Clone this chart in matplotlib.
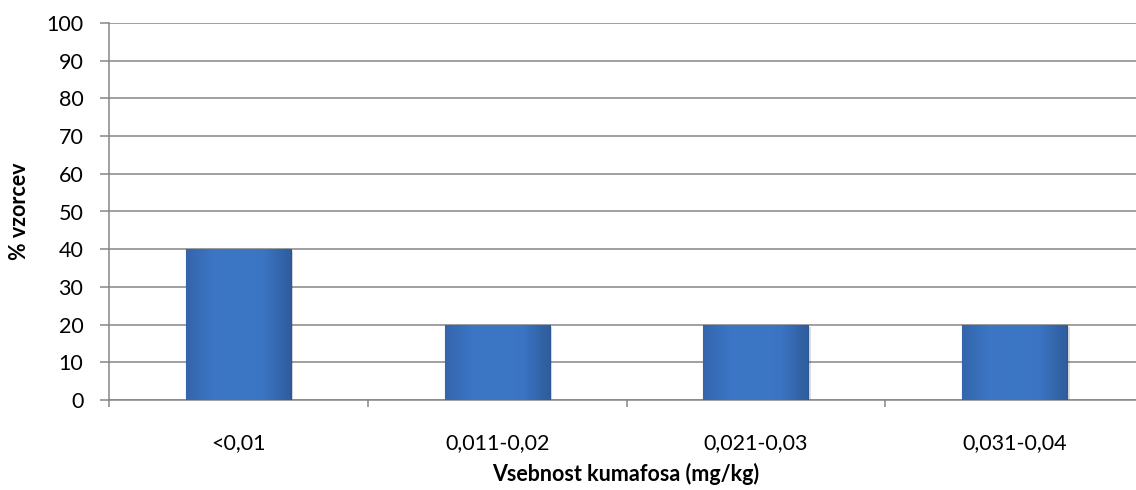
import numpy as np
import matplotlib
matplotlib.use("Agg")
import matplotlib.pyplot as plt
from matplotlib.colors import LinearSegmentedColormap

# data
categories = ["<0,01", "0,011-0,02", "0,021-0,03", "0,031-0,04"]
values = [40, 20, 20, 20]
yticks = list(range(0, 101, 10))

plt.rcParams['font.family'] = ['Lato', 'DejaVu Sans']

fig = plt.figure(figsize=(11.36, 4.9), dpi=100)
# plot area runs past the right edge (the original is cropped there)
ax = fig.add_axes([109/1136, 90/490, 1035/1136, 377/490])

x = np.arange(len(categories))
bars = ax.bar(x, values, width=0.405, color="#3b73c0", edgecolor="#2b5894",
              linewidth=0.8, zorder=3)

# bevel-ish shading: a bit darker at the sides
cmap = LinearSegmentedColormap.from_list(
    "bev", ["#3465ac", "#3b75c4", "#3c77c6", "#3b74c2", "#2f5c9c"])
grad = np.linspace(0, 1, 256).reshape(1, -1)
for b in bars:
    x0, y0 = b.get_x(), b.get_y()
    w, h = b.get_width(), b.get_height()
    im = ax.imshow(grad, cmap=cmap, aspect="auto", zorder=3.5,
                   extent=[x0, x0 + w, y0, y0 + h], interpolation="bicubic")
    im.set_clip_path(b)
    # faint shadow below
    ax.bar(x0 + w/2 + 0.01, h, width=w, bottom=-0.6, color="#00000022",
           zorder=2.5, linewidth=0)

ax.set_xlim(-0.5, len(categories) - 0.5)
ax.set_ylim(0, 100)
ax.set_yticks(yticks)
ax.set_xticks(np.arange(len(categories) + 1) - 0.5, minor=False)
ax.set_xticklabels([])
ax.set_xticks(x, minor=True)
ax.set_xticklabels(categories, minor=True)

ax.yaxis.grid(True, color="#868686", linewidth=1.1, zorder=0)
ax.set_axisbelow(True)

for s in ["top", "right"]:
    ax.spines[s].set_visible(False)
for s in ["left", "bottom"]:
    ax.spines[s].set_color("#868686")
    ax.spines[s].set_linewidth(1.1)

ax.tick_params(axis="y", direction="out", length=6.5, width=1.1,
               color="#868686", labelsize=15.5, pad=12)
ax.tick_params(axis="x", which="major", direction="out", length=5, width=1.1,
               color="#868686")
ax.tick_params(axis="x", which="minor", length=0, labelsize=15.5, pad=24)

fig.text(20/1136, 1 - 211/490, "% vzorcev", rotation=90, ha="center",
         va="center", fontsize=15.5, fontweight="bold")
fig.text(626/1136, 1 - 474/490, "Vsebnost kumafosa (mg/kg)", ha="center",
         va="center", fontsize=15.5, fontweight="bold")

fig.savefig("out.png", dpi=100)
